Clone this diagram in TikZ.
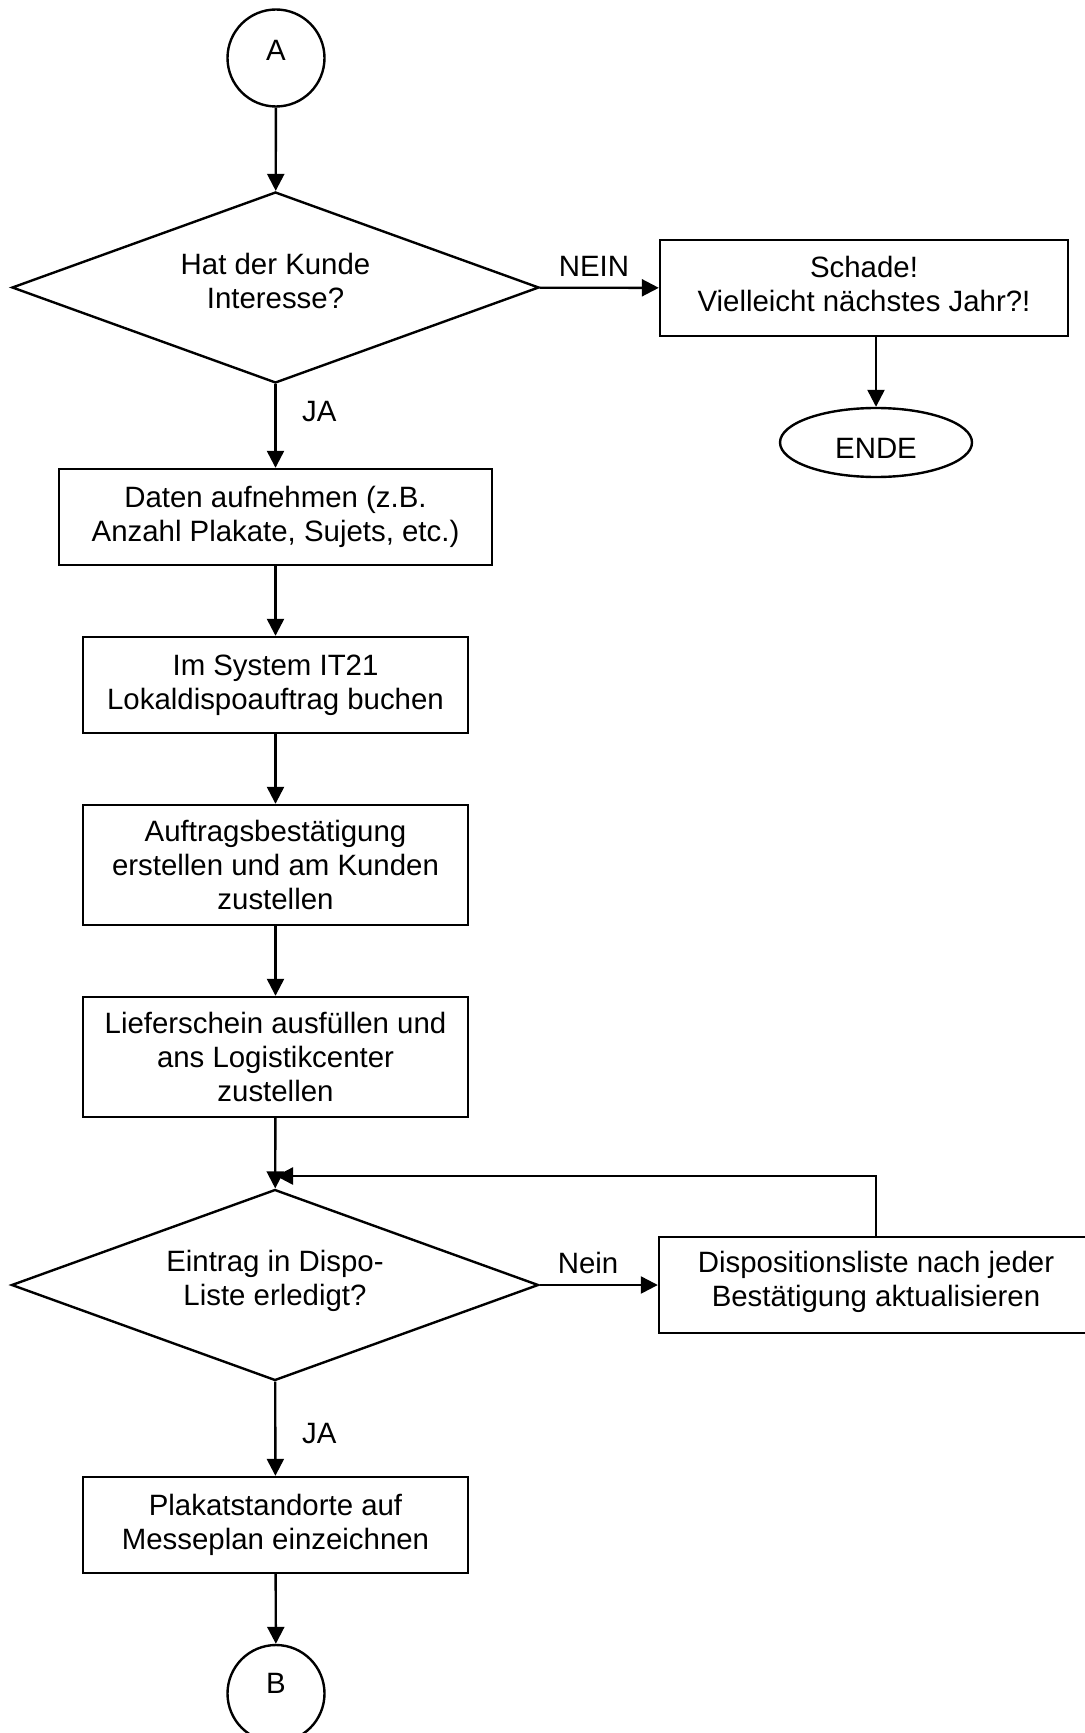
\documentclass[tikz,border=0pt]{standalone}
\usepackage{fontspec}
\setmainfont{Liberation Sans}
\usetikzlibrary{shapes.geometric,arrows.meta}
\tikzset{
    txt/.style={font=\fontsize{14.7pt}{17pt}\selectfont,align=center},
    process/.style={txt,draw,line width=1.2pt,inner sep=0pt,minimum width=192.5pt,minimum height=48pt},
    decision/.style={txt,draw,line width=1.2pt,diamond,aspect=2.7,inner sep=0pt,text depth=7pt,minimum width=263.5pt,minimum height=95.5pt},
    connector/.style={txt,draw,line width=1.2pt,circle,inner sep=0pt,minimum size=48.5pt},
    terminal/.style={txt,draw,line width=1.2pt,ellipse,inner sep=0pt,minimum width=96pt,minimum height=34.5pt},
    flow/.style={line width=1.2pt,-{Triangle[length=8.5pt,width=8.5pt]}}
}
\begin{document}
\begin{tikzpicture}[x=0.5pt,y=-0.5pt]
        \useasboundingbox (0,0) rectangle (1084,1733);
        \node [connector,text depth=7.5pt] (conA) at (276,58) {A};
        \node [decision] (kunde) at (275.5,287.5) {Hat der Kunde\\Interesse?};
        \node [process,minimum width=216.5pt] (daten) at (275.5,517) {Daten aufnehmen (z.B.\\Anzahl Plakate, Sujets, etc.)};
        \node [process] (buchen) at (275.5,685) {Im System IT21\\Lokaldispoauftrag buchen};
        \node [process,minimum height=60pt] (bestaet) at (275.5,865) {Auftragsbestätigung\\erstellen und am Kunden\\zustellen};
        \node [process,minimum height=60pt] (liefer) at (275.5,1057) {Lieferschein ausfüllen und\\ans Logistikcenter\\zustellen};
        \node [decision] (dispo) at (275,1285) {Eintrag in Dispo-\\Liste erledigt?};
        \node [process] (messe) at (275.5,1525) {Plakatstandorte auf\\Messeplan einzeichnen};
        \node [connector,text depth=10.5pt] (conB) at (276,1693.5) {B};
        \node [process,minimum width=204pt,text depth=4pt] (schade) at (864,288) {Schade!\\Vielleicht nächstes Jahr?!};
        \node [terminal,text height=16pt] (ende) at (876,442.5) {ENDE};
        \node [process,minimum width=217pt,text depth=6.4pt] (liste) at (876,1285) {Dispositionsliste nach jeder\\Bestätigung aktualisieren};
        \node [txt,anchor=base west] (jaA) at (295,422) {JA};
        \node [txt,anchor=base] (neinA) at (594,277) {NEIN};
        \node [txt,anchor=base] (neinB) at (588,1273) {Nein};
        \node [txt,anchor=base west] (jaB) at (295,1443) {JA};
        \coordinate (merge) at (276,1176);
        \draw [flow] (conA) -- (kunde);
        \draw [flow] (kunde) -- (daten);
        \draw [flow] (kunde) -- (schade);
        \draw [flow] (ende.north |- schade.south) -- (ende);
        \draw [flow] (daten) -- (buchen);
        \draw [flow] (buchen) -- (bestaet);
        \draw [flow] (bestaet) -- (liefer);
        \draw [flow] (liefer) -- (dispo);
        \draw [flow] (dispo) -- (liste);
        \draw [flow] (liste.north) |- (merge);
        \draw [flow] (dispo) -- (messe);
        \draw [flow] (messe) -- (conB);
    \end{tikzpicture}
\end{document}
